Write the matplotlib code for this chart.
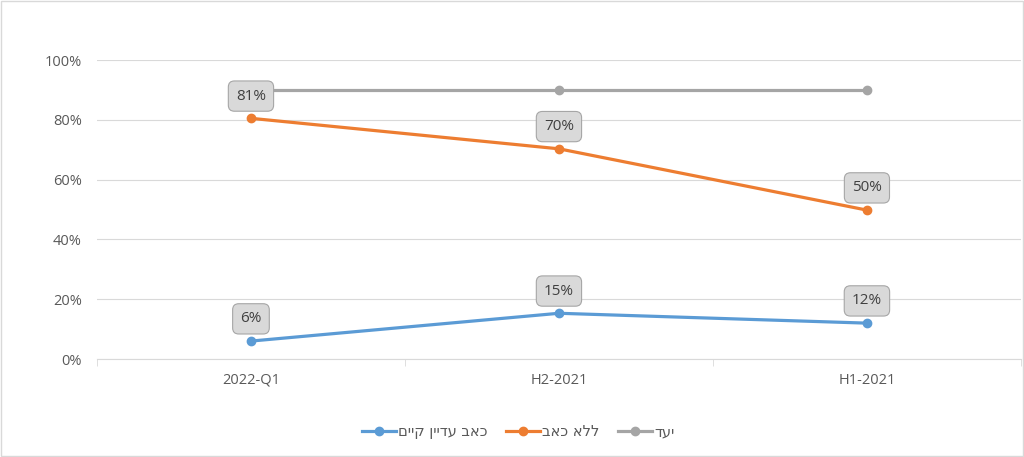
import matplotlib.pyplot as plt
from matplotlib.patches import Rectangle
from matplotlib.lines import Line2D

# data
categories = ["2022-Q1", "H2-2021", "H1-2021"]
pain_still = [6, 15.3, 12]
no_pain = [80.5, 70.3, 49.8]
target = [90, 90, 90]

pain_labels = ["6%", "15%", "12%"]
no_pain_labels = ["81%", "70%", "50%"]

series_names = ["כאב עדיין קיים", "ללא כאב", "יעד"]
colors = ["#5b9bd5", "#ed7d31", "#a5a5a5"]


def visual(s):
    # matplotlib has no bidi, so flip Hebrew to visual order
    return s[::-1]


plt.rcParams['font.family'] = ['Open Sans', 'DejaVu Sans']

fig = plt.figure(figsize=(10.24, 4.57), dpi=100)
ax = fig.add_axes([0.0947, 0.2144, 0.9023, 0.6543])

x = list(range(len(categories)))

ax.plot(x, pain_still, color=colors[0], lw=2.3, marker='o', ms=6, solid_capstyle='round')
ax.plot(x, no_pain, color=colors[1], lw=2.3, marker='o', ms=6, solid_capstyle='round')
ax.plot(x, target, color=colors[2], lw=2.3, marker='o', ms=6, solid_capstyle='round')

box = dict(boxstyle="round,pad=0.5,rounding_size=0.4", fc="#d9d9d9", ec="#a6a6a6", lw=0.8)
for xi, yi, lab in zip(x, pain_still, pain_labels):
    ax.annotate(lab, (xi, yi), xytext=(0, 16), textcoords='offset points',
                ha='center', va='center', fontsize=11, color='#404040', bbox=box)
for xi, yi, lab in zip(x, no_pain, no_pain_labels):
    ax.annotate(lab, (xi, yi), xytext=(0, 16), textcoords='offset points',
                ha='center', va='center', fontsize=11, color='#404040', bbox=box)

ax.set_xlim(-0.5, 2.5)
ax.set_ylim(0, 100)
ax.set_yticks([0, 20, 40, 60, 80, 100])
ax.set_yticklabels([f"{v}%" for v in [0, 20, 40, 60, 80, 100]])
ax.set_xticks(x)
ax.set_xticklabels(categories)
ax.set_xticks([-0.5, 0.5, 1.5, 2.5], minor=True)

ax.grid(axis='y', color='#d9d9d9', lw=0.8)
ax.set_axisbelow(True)
for s in ['top', 'right', 'left']:
    ax.spines[s].set_visible(False)
ax.spines['bottom'].set_color('#d9d9d9')
ax.tick_params(axis='y', length=0, pad=11, labelsize=10.5, labelcolor='#595959')
ax.tick_params(axis='x', which='major', length=0, pad=10, labelsize=10.5, labelcolor='#595959')
ax.tick_params(axis='x', which='minor', length=5, color='#d9d9d9')

handles = [Line2D([0], [0], color=c, lw=2.3, marker='o', ms=6) for c in colors]
fig.legend(handles, [visual(n) for n in series_names], loc='center', bbox_to_anchor=(0.506, 0.055),
           ncol=3, frameon=False, markerfirst=True, handlelength=2.3,
           columnspacing=1.3, handletextpad=0.15, labelcolor='#595959',
           prop={'family': 'DejaVu Sans', 'size': 10.5})

fig.patches.append(Rectangle((0.001, 0.002), 0.998, 0.996, transform=fig.transFigure,
                             fill=False, ec='#d9d9d9', lw=1))

fig.savefig("out.png", dpi=100)
